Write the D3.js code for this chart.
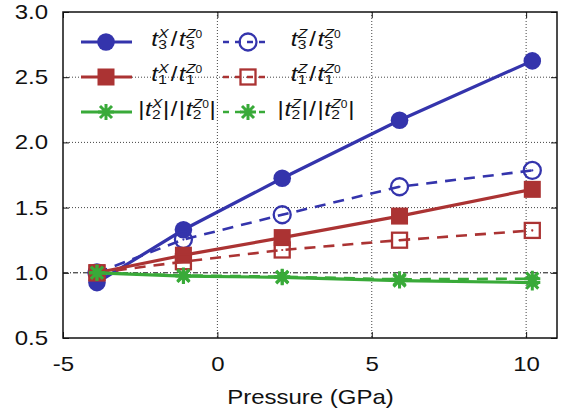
<!DOCTYPE html>
<html><head><meta charset="utf-8">
<script src="https://cdn.jsdelivr.net/npm/d3@7"></script>
<style>body{margin:0;background:#fff}svg{display:block}text{font-family:"Liberation Sans",Arial,sans-serif;fill:#111}</style>
</head><body><svg id="c" width="564" height="418"></svg>
<script>
const pressure = [-3.9, -1.1, 2.1, 5.9, 10.2];
const t3X = [0.925, 1.33, 1.725, 2.17, 2.625];
const t3Z = [1.0, 1.255, 1.445, 1.66, 1.785];
const t1X = [1.0, 1.135, 1.27, 1.435, 1.64];
const t1Z = [1.0, 1.085, 1.175, 1.25, 1.325];
const t2X = [1.0, 0.975, 0.965, 0.94, 0.925];
const t2Z = [1.0, 0.98, 0.97, 0.95, 0.955];
const xTicks = [-5, 0, 5, 10];
const yTicks = [0.5, 1.0, 1.5, 2.0, 2.5, 3.0];

const blue = "#3434ac", red = "#ab3333", green = "#39aa39";
const series = [
  {v: t3X, color: blue, dash: null, marker: "circleF", idx: "3", sup: "X", abs: false},
  {v: t3Z, color: blue, dash: "11,8", marker: "circleO", idx: "3", sup: "Z", abs: false},
  {v: t1X, color: red, dash: null, marker: "squareF", idx: "1", sup: "X", abs: false},
  {v: t1Z, color: red, dash: "11,8", marker: "squareO", idx: "1", sup: "Z", abs: false},
  {v: t2X, color: green, dash: null, marker: "star", idx: "2", sup: "X", abs: true},
  {v: t2Z, color: green, dash: "11,8", marker: "star", idx: "2", sup: "Z", abs: true}
];

const SX = 1.2; // horizontal stretch of the reference's text
const svg = d3.select("#c");
const L = 63, R = 557, T = 12, B = 338;
const x = d3.scaleLinear().domain([-5, 11]).range([L, R]);
const y = d3.scaleLinear().domain([0.5, 3.0]).range([B, T]);

// grid
const grid = svg.append("g");
xTicks.filter(t => t > -5).forEach(t => {
  grid.append("line").attr("x1", x(t)).attr("x2", x(t)).attr("y1", T).attr("y2", B)
    .attr("stroke", "#444").attr("stroke-width", 1).attr("stroke-dasharray", "1,2");
});
yTicks.filter(t => t > 0.5 && t < 3 && t !== 1.0).forEach(t => {
  grid.append("line").attr("x1", L).attr("x2", R).attr("y1", y(t)).attr("y2", y(t))
    .attr("stroke", "#444").attr("stroke-width", 1).attr("stroke-dasharray", "1,2");
});
grid.append("line").attr("x1", L).attr("x2", R).attr("y1", y(1.0)).attr("y2", y(1.0))
  .attr("stroke", "#111").attr("stroke-width", 1).attr("stroke-dasharray", "5,2,1,2");

// axes with inward ticks
const axB = d3.axisBottom(x).tickValues(xTicks).tickSize(-6).tickPadding(18.5).tickFormat(d => String(d));
const axL = d3.axisLeft(y).tickValues(yTicks).tickSize(-6).tickPadding(15).tickFormat(d3.format(".1f"));
const axT = d3.axisTop(x).tickValues(xTicks).tickSize(-6).tickFormat("");
const axR = d3.axisRight(y).tickValues(yTicks).tickSize(-6).tickFormat("");
[[axB, `translate(0,${B})`, "center"], [axL, `translate(${L},0)`, "right"], [axT, `translate(0,${T})`, null], [axR, `translate(${R},0)`, null]].forEach(([a, tr, org]) => {
  const g = svg.append("g").attr("transform", tr).call(a);
  g.select(".domain").remove();
  g.selectAll(".tick line").attr("stroke", "#111").attr("stroke-width", 1);
  g.selectAll(".tick text").style("font-size", "20px").attr("fill", "#111")
    .style("transform-box", "fill-box").style("transform-origin", org || "center").style("transform", `scaleX(${SX})`);
});
svg.append("rect").attr("x", L).attr("y", T).attr("width", R - L).attr("height", B - T)
  .attr("fill", "none").attr("stroke", "#111").attr("stroke-width", 1.5);

const cxLab = 310.5;
svg.append("text").attr("x", cxLab).attr("y", 404).attr("text-anchor", "middle")
  .attr("transform", `translate(${cxLab},0) scale(${SX},1) translate(${-cxLab},0)`)
  .style("font-size", "20px").text("Pressure (GPa)");

function marker(g, type, cx, cy, color) {
  if (type === "circleF") {
    g.append("circle").attr("cx", cx).attr("cy", cy).attr("r", 8.8).attr("fill", color);
  } else if (type === "circleO") {
    g.append("circle").attr("cx", cx).attr("cy", cy).attr("r", 8.5).attr("fill", "none").attr("stroke", color).attr("stroke-width", 2.3);
    g.append("circle").attr("cx", cx).attr("cy", cy).attr("r", 1.1).attr("fill", color);
  } else if (type === "squareF") {
    g.append("rect").attr("x", cx - 8.5).attr("y", cy - 8.5).attr("width", 17).attr("height", 17).attr("fill", color);
  } else if (type === "squareO") {
    g.append("rect").attr("x", cx - 7.5).attr("y", cy - 7.5).attr("width", 15).attr("height", 15).attr("fill", "none").attr("stroke", color).attr("stroke-width", 2.3);
    g.append("circle").attr("cx", cx).attr("cy", cy).attr("r", 1.1).attr("fill", color);
  } else {
    const s = 8, d = s * 0.75;
    const p = `M${cx - s},${cy}H${cx + s}M${cx},${cy - s}V${cy + s}M${cx - d},${cy - d}L${cx + d},${cy + d}M${cx - d},${cy + d}L${cx + d},${cy - d}`;
    g.append("path").attr("d", p).attr("stroke", color).attr("stroke-width", 3).attr("fill", "none");
  }
}

const line = d3.line().x(d => x(d[0])).y(d => y(d[1]));
series.forEach(s => {
  const g = svg.append("g");
  const pts = pressure.map((p, i) => [p, s.v[i]]);
  g.append("path").attr("d", line(pts)).attr("fill", "none").attr("stroke", s.color)
    .attr("stroke-width", s.dash ? 2.6 : 3.2).attr("stroke-dasharray", s.dash);
  pts.forEach(p => marker(g, s.marker, x(p[0]), y(p[1]), s.color));
});

// legend
const rowsY = [42, 77, 112];
const cols = [{lx1: 81, lx2: 132, mx: 106, tx: 177}, {lx1: 223, lx2: 271, mx: 248, tx: 316}];
const measure = svg.append("text").attr("visibility", "hidden");
function tw(str, size, italic) {
  measure.text(str).style("font-size", size + "px").style("font-style", italic ? "italic" : "normal");
  return measure.node().getComputedTextLength();
}
function drawLabel(cx, cy, s) {
  const M = 20, S = 13, SS = 10;
  const items = [];
  let cur = 0;
  const push = (str, size, italic, dy) => { items.push({str, size, italic, x: cur, dy}); const w = tw(str, size, italic); cur += w; return w; };
  const term = (supTxt, zero) => {
    if (s.abs) { push("|", M, false, 0); cur += 0.5; }
    push("t", M, true, 0); cur += 0.3;
    const start = cur;
    let w1 = push(supTxt, S, true, -8);
    if (zero) { w1 += push("0", SS, false, -7.5); }
    cur = start;
    const w2 = push(s.idx, S, false, 3.5);
    cur = start + Math.max(w1, w2) + 0.5;
    if (s.abs) { push("|", M, false, 0); }
  };
  term(s.sup, false);
  cur += 1.2;
  push("/", M, false, 0);
  cur += 1.2;
  term("Z", true);
  const total = cur;
  const t = svg.append("text")
    .attr("transform", `translate(${cx},0) scale(${SX},1) translate(${-cx},0)`);
  items.forEach(it => {
    t.append("tspan").attr("x", cx - total / 2 + it.x).attr("y", cy + 4 + it.dy)
      .style("font-size", it.size + "px").style("font-style", it.italic ? "italic" : "normal").text(it.str);
  });
}
series.forEach((s, i) => {
  const row = Math.floor(i / 2), col = cols[i % 2], cy = rowsY[row];
  const g = svg.append("g");
  g.append("line").attr("x1", col.lx1).attr("x2", col.lx2).attr("y1", cy).attr("y2", cy)
    .attr("stroke", s.color).attr("stroke-width", s.dash ? 2.6 : 3.2).attr("stroke-dasharray", s.dash ? "6,6" : null);
  marker(g, s.marker, col.mx, cy, s.color);
  drawLabel(col.tx, cy, s);
});
measure.remove();
</script></body></html>
